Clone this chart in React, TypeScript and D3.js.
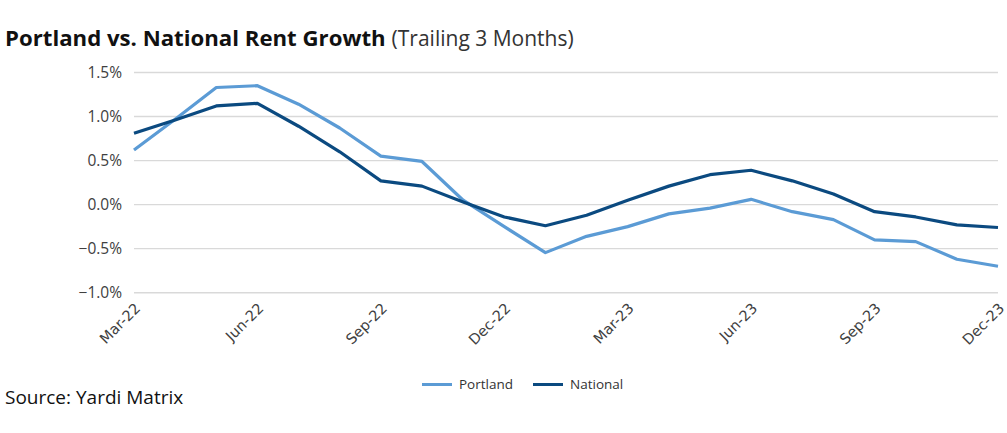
import React from "react";
import * as d3 from "d3";

const months = [
  "Mar-22", "Apr-22", "May-22", "Jun-22", "Jul-22", "Aug-22", "Sep-22", "Oct-22",
  "Nov-22", "Dec-22", "Jan-23", "Feb-23", "Mar-23", "Apr-23", "May-23", "Jun-23",
  "Jul-23", "Aug-23", "Sep-23", "Oct-23", "Nov-23", "Dec-23",
];
const portland = [
  0.62, 0.97, 1.33, 1.35, 1.14, 0.87, 0.55, 0.49, 0.05, -0.25, -0.545, -0.36,
  -0.25, -0.105, -0.04, 0.06, -0.08, -0.17, -0.40, -0.42, -0.62, -0.70,
];
const national = [
  0.81, 0.96, 1.12, 1.15, 0.89, 0.60, 0.27, 0.21, 0.03, -0.14, -0.24, -0.12,
  0.05, 0.21, 0.34, 0.39, 0.27, 0.12, -0.08, -0.14, -0.23, -0.26,
];
const yTicks = [-1.0, -0.5, 0.0, 0.5, 1.0, 1.5];
const xTickLabels = ["Mar-22", "Jun-22", "Sep-22", "Dec-22", "Mar-23", "Jun-23", "Sep-23", "Dec-23"];
const seriesNames = ["Portland", "National"];
const seriesColors = ["#5B9BD5", "#0B4A80"];

export default function App() {
  const W = 1007;
  const H = 433;
  const x = d3.scalePoint<string>().domain(months).range([134, 998]);
  const y = d3.scaleLinear().domain([-1.0, 1.5]).range([292.7, 72.5]);
  const line = d3
    .line<number>()
    .x((_, i) => x(months[i]) as number)
    .y((d) => y(d));
  const series = [portland, national];
  const uiFont = "'Open Sans', sans-serif";

  return (
    <svg
      width={W}
      height={H}
      style={{ position: "absolute", left: 0, top: 0, background: "#fff" }}
    >
      <text x={5} y={46} fontFamily={uiFont} fill="#111">
        <tspan fontWeight={700} fontSize={22.2}>Portland vs. National Rent Growth</tspan>
        <tspan fontSize={21} fill="#333" dx={6}>(Trailing 3 Months)</tspan>
      </text>

      {yTicks.map((t) => (
        <g key={t}>
          <line x1={134} x2={998} y1={y(t)} y2={y(t)} stroke="#d9d9d9" strokeWidth={1.4} />
          <text
            x={122}
            y={y(t)}
            dy="0.35em"
            textAnchor="end"
            fontFamily={uiFont}
            fontSize={15.5}
            fill="#404040"
          >
            {d3.format(".1f")(t) + "%"}
          </text>
        </g>
      ))}

      {xTickLabels.map((m) => (
        <text
          key={m}
          transform={`translate(${(x(m) as number) + 0},${302}) rotate(-45)`}
          textAnchor="end"
          dy="0.7em"
          fontFamily="DejaVu Sans, Verdana, sans-serif"
          fontSize={14.5}
          fill="#404040"
        >
          {m}
        </text>
      ))}

      {series.map((s, i) => (
        <path
          key={seriesNames[i]}
          d={line(s) || ""}
          fill="none"
          stroke={seriesColors[i]}
          strokeWidth={3.2}
          strokeLinejoin="round"
        />
      ))}

      {seriesNames.map((n, i) => {
        const lx = [422, 533][i];
        return (
          <g key={n}>
            <line x1={lx} x2={lx + 30} y1={384.5} y2={384.5} stroke={seriesColors[i]} strokeWidth={3} />
            <text x={lx + 37} y={389} fontFamily={uiFont} fontSize={13.5} fill="#333">
              {n}
            </text>
          </g>
        );
      })}

      <text x={5} y={404} fontFamily={uiFont} fontSize={19} fill="#111">
        Source: Yardi Matrix
      </text>
    </svg>
  );
}
